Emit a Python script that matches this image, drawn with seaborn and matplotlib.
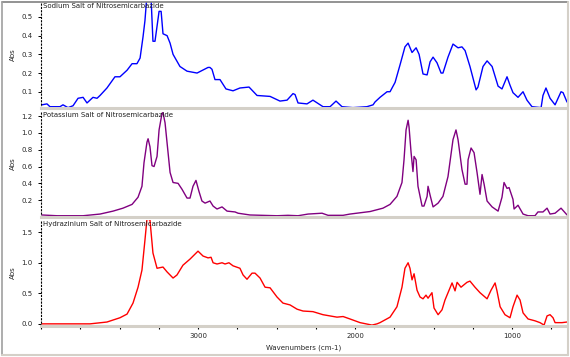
import numpy as np
import pandas as pd
import matplotlib
matplotlib.use("Agg")
import matplotlib.pyplot as plt
import seaborn as sns
from matplotlib.lines import Line2D
from matplotlib.ticker import FixedLocator, MultipleLocator

# spectra (wavenumber cm-1, absorbance)
sodium_wn = [3994, 3962, 3943, 3879, 3860, 3828, 3796, 3764, 3732, 3707, 3669, 3643, 3624,
             3580, 3529, 3497, 3452, 3420, 3389, 3369, 3350, 3338, 3325, 3300, 3287, 3274,
             3261, 3248, 3235, 3223, 3197, 3178, 3159, 3115, 3070, 3006, 2936, 2924, 2911,
             2892, 2860, 2822, 2777, 2733, 2675, 2624, 2541, 2478, 2433, 2395, 2382, 2363,
             2306, 2268, 2204, 2159, 2121, 2083, 2013, 1924, 1885, 1873, 1841, 1796, 1777,
             1745, 1713, 1682, 1662, 1637, 1611, 1592, 1567, 1541, 1522, 1503, 1478, 1452,
             1440, 1408, 1376, 1344, 1319, 1299, 1268, 1229, 1217, 1185, 1159, 1127, 1089,
             1064, 1032, 1013, 994, 962, 930, 905, 873, 815, 803, 784, 758, 726, 688, 675, 650]
sodium_abs = [.03, .035, .02, .02, .03, .015, .025, .065, .07, .04, .07, .065, .08,
              .12, .18, .18, .215, .25, .25, .28, .395, .48, .62, .62, .37, .37,
              .45, .53, .53, .41, .40, .36, .30, .235, .21, .20, .23, .23, .22,
              .165, .165, .115, .105, .12, .125, .08, .075, .05, .055, .09, .085, .04,
              .035, .055, .02, .02, .05, .02, .015, .02, .03, .045, .07, .10, .10,
              .15, .245, .34, .36, .31, .335, .30, .195, .19, .26, .285, .255, .20,
              .20, .285, .355, .335, .34, .32, .235, .11, .125, .235, .265, .235, .13,
              .115, .18, .135, .095, .07, .10, .055, .02, .015, .08, .12, .065, .03, .10, .095, .045]

potassium_wn = [3994, 3898, 3732, 3624, 3541, 3478, 3420, 3382, 3357, 3344, 3325, 3318, 3306,
                3293, 3280, 3261, 3248, 3229, 3223, 3210, 3197, 3178, 3159, 3127, 3102, 3070,
                3051, 3032, 3013, 2994, 2975, 2955, 2924, 2904, 2879, 2847, 2815, 2764, 2745,
                2669, 2497, 2427, 2363, 2299, 2210, 2172, 2076, 2032, 1904, 1822, 1777, 1733,
                1701, 1688, 1675, 1662, 1656, 1643, 1631, 1624, 1611, 1599, 1573, 1561, 1541,
                1535, 1522, 1503, 1471, 1440, 1408, 1376, 1357, 1344, 1319, 1299, 1287, 1280,
                1261, 1242, 1223, 1204, 1191, 1178, 1159, 1127, 1089, 1064, 1051, 1032, 1019,
                994, 987, 962, 930, 898, 854, 835, 803, 777, 758, 726, 688, 650]
potassium_abs = [.024, .015, .015, .035, .07, .105, .15, .235, .365, .645, .89, .93, .835,
                 .61, .60, .72, 1.035, 1.235, 1.24, 1.12, .88, .53, .41, .40, .33, .225,
                 .225, .365, .435, .305, .19, .165, .19, .13, .095, .12, .07, .06, .045,
                 .024, .015, .02, .015, .035, .045, .02, .02, .035, .065, .105, .15, .245,
                 .41, .68, 1.035, 1.15, 1.07, .765, .54, .72, .68, .365, .13, .13, .245,
                 .365, .26, .12, .165, .245, .48, .92, 1.035, .92, .565, .39, .39, .68,
                 .82, .765, .53, .27, .505, .39, .19, .12, .07, .235, .41, .34, .35,
                 .21, .095, .14, .035, .015, .015, .06, .06, .105, .035, .045, .105, .025]

hydrazinium_wn = [3994, 3688, 3580, 3497, 3452, 3414, 3382, 3357, 3338, 3325, 3306, 3287, 3261,
                  3223, 3197, 3159, 3134, 3096, 3051, 3000, 2968, 2936, 2917, 2904, 2879, 2847,
                  2828, 2803, 2777, 2733, 2713, 2688, 2656, 2637, 2605, 2573, 2541, 2497, 2459,
                  2414, 2369, 2331, 2268, 2204, 2115, 2076, 2032, 1968, 1892, 1860, 1841, 1777,
                  1733, 1701, 1682, 1662, 1650, 1637, 1624, 1605, 1586, 1567, 1548, 1535, 1510,
                  1497, 1471, 1446, 1427, 1382, 1363, 1350, 1325, 1287, 1268, 1236, 1204, 1159,
                  1134, 1108, 1096, 1076, 1045, 1013, 994, 968, 949, 930, 898, 854, 822, 796,
                  777, 758, 739, 726, 682, 650]
hydrazinium_abs = [0.0, 0.0, .03, .10, .16, .34, .60, .88, 1.37, 1.72, 1.70, 1.16, .91,
                   .93, .85, .75, .80, .96, 1.06, 1.19, 1.11, 1.08, 1.09, 1.0, .98, 1.0,
                   .98, 1.0, .95, .91, .80, .73, .83, .83, .75, .60, .59, .44, .34,
                   .31, .24, .21, .20, .15, .11, .12, .08, .02, -.02, 0.0, .02, .11,
                   .28, .60, .91, 1.0, .91, .72, .82, .55, .44, .41, .47, .42, .51,
                   .26, .15, .23, .39, .67, .54, .68, .60, .68, .70, .60, .51, .41,
                   .55, .67, .54, .28, .15, .10, .28, .47, .39, .18, .08, .05, .02, -.02,
                   .13, .15, .10, .02, .02, .03]

titles = ["Sodium Salt of Nitrosemicarbazide",
          "Potassium Salt of Nitrosemicarbazide",
          "Hydrazinium Salt of Nitrosemicarbazide"]
line_colors = ["#0000ff", "#800080", "#ff0000"]
y_ticks = [[0.1, 0.2, 0.3, 0.4, 0.5],
           [0.2, 0.4, 0.6, 0.8, 1.0, 1.2],
           [0.0, 0.5, 1.0, 1.5]]
y_limits = [(0.013, 0.58), (0.0, 1.26), (-0.035, 1.70)]
x_major = [3000, 2000, 1000]

sns.set_style("white")
plt.rcParams["font.family"] = ["DejaVu Sans"]

W, H = 570, 357
fig = plt.figure(figsize=(W / 100, H / 100), dpi=100)
fig.patch.set_facecolor("white")

spectra = [(sodium_wn, sodium_abs), (potassium_wn, potassium_abs),
           (hydrazinium_wn, hydrazinium_abs)]
panel_tops = [2, 111, 220]
panel_h = 106
left_px, right_px = 41, 567
gray = "#d4d0c8"

axes = []
for i, (wn, ab) in enumerate(spectra):
    top = panel_tops[i]
    ax = fig.add_axes([left_px / W, (H - top - panel_h) / H,
                       (right_px - left_px) / W, panel_h / H])
    df = pd.DataFrame({"wn": wn, "abs": ab})
    sns.lineplot(data=df, x="wn", y="abs", ax=ax, color=line_colors[i],
                 linewidth=1.0, estimator=None)
    ax.set_xlim(4000, 650)
    ax.set_ylim(*y_limits[i])
    ax.set_facecolor("white")
    for s in ["top", "right"]:
        ax.spines[s].set_visible(False)
    ax.spines["left"].set_color("black")
    ax.spines["left"].set_linestyle((0, (1, 2)))
    ax.spines["left"].set_linewidth(0.8)
    ax.spines["bottom"].set_color(gray)
    ax.spines["bottom"].set_linewidth(2.2)
    ax.yaxis.set_major_locator(FixedLocator(y_ticks[i]))
    ax.set_yticklabels([f"{v:.1f}" for v in y_ticks[i]])
    ax.tick_params(axis="y", which="both", left=True, length=2, width=0.7,
                   color="black", labelsize=5, pad=4, direction="out")
    ax.set_ylabel("Abs", fontsize=5)
    ax.yaxis.set_label_coords(-0.047, 0.5)
    ax.text(0.003, 0.995, titles[i], transform=ax.transAxes, fontsize=5,
            ha="left", va="top", color="#202020")
    ax.set_xlabel("")
    axes.append(ax)

for ax in axes[:2]:
    ax.tick_params(axis="x", which="both", bottom=False, labelbottom=False)

ax3 = axes[2]
ax3.xaxis.set_major_locator(FixedLocator(x_major))
ax3.xaxis.set_minor_locator(MultipleLocator(250))
ax3.set_xticklabels([str(v) for v in x_major])
ax3.tick_params(axis="x", which="both", bottom=True, length=2, width=0.8,
                color="black", labelsize=5, pad=3, direction="out")
ax3.set_xlabel("Wavenumbers (cm-1)", fontsize=5, labelpad=4)

# sunken window frame
fig.add_artist(Line2D([2 / W, 568 / W], [1 - 1.5 / H, 1 - 1.5 / H], color="#808080", lw=1.2))
fig.add_artist(Line2D([2 / W, 2 / W], [2 / H, 1 - 1.5 / H], color="#a0a0a0", lw=1.2))
fig.add_artist(Line2D([568 / W, 568 / W], [2 / H, 1 - 1.5 / H], color=gray, lw=1.5))
fig.add_artist(Line2D([2 / W, 568 / W], [2 / H, 2 / H], color=gray, lw=1.5))

fig.savefig("out.png", dpi=100, facecolor="white")
